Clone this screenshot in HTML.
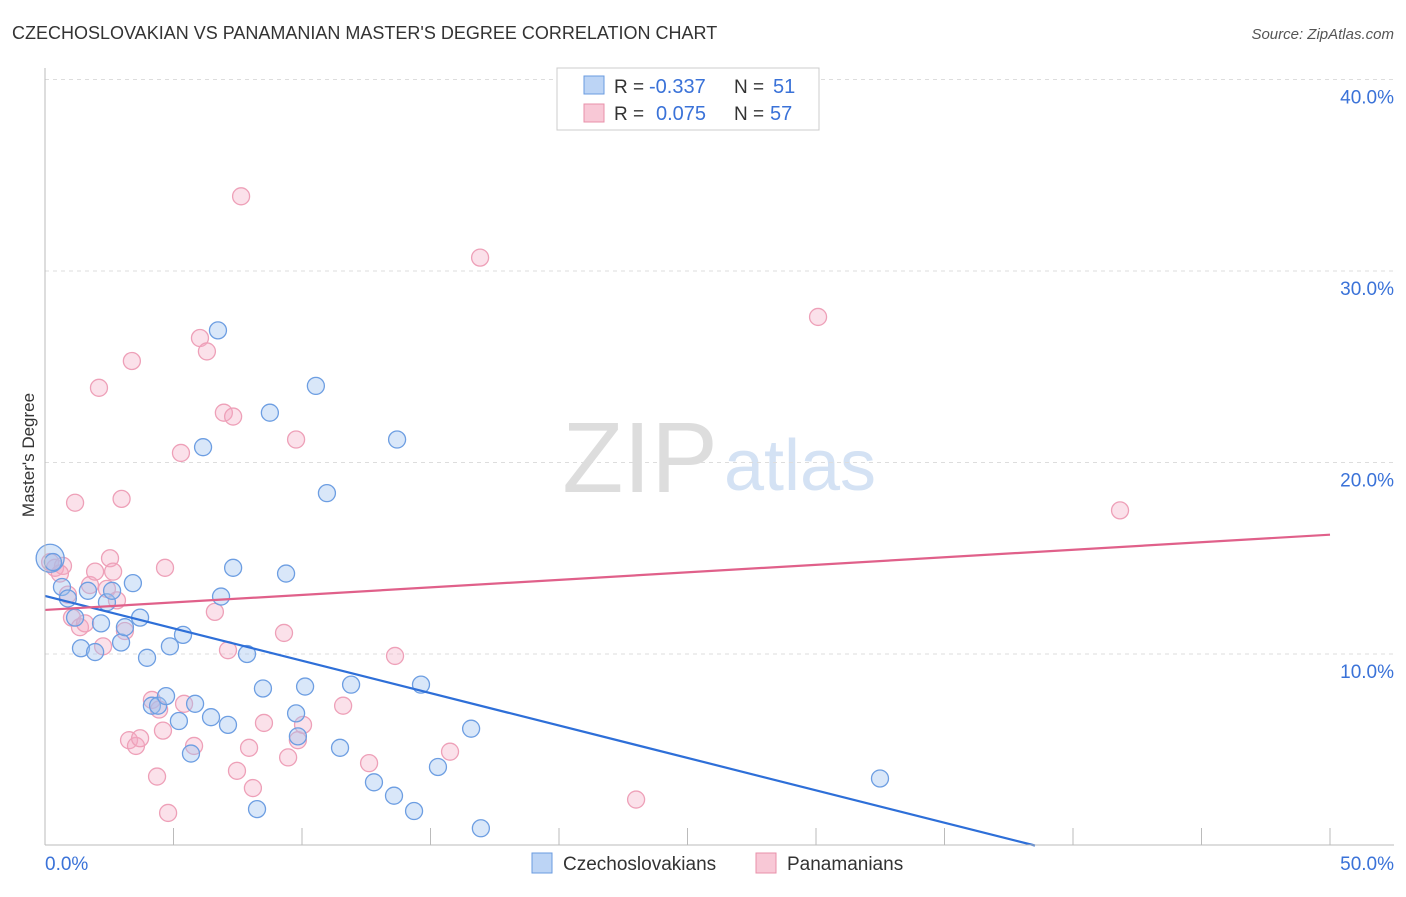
<!DOCTYPE html>
<html><head><meta charset="utf-8"><style>
body{margin:0;background:#fff;font-family:"Liberation Sans",sans-serif}
svg text{font-family:"Liberation Sans",sans-serif}
</style></head><body>
<svg id="c" width="1406" height="892">
<text x="12" y="39" font-size="18" fill="#333">CZECHOSLOVAKIAN VS PANAMANIAN MASTER'S DEGREE CORRELATION CHART</text>
<text x="1394" y="39" font-size="15" fill="#555" font-style="italic" text-anchor="end">Source: ZipAtlas.com</text>
<text x="34" y="455" font-size="17" fill="#333" text-anchor="middle" transform="rotate(-90 34 455)">Master's Degree</text>
<text x="640" y="492" font-size="100" fill="#ddd" font-family="Liberation Serif" text-anchor="middle">ZIP</text>
<text x="800" y="490" font-size="72" fill="#d4e2f4" text-anchor="middle">atlas</text>
<g id="grid"></g><g id="pts"></g><g id="lines"></g>
<line x1="45" y1="68" x2="45" y2="845" stroke="#bbb"/>
<line x1="45" y1="845" x2="1394" y2="845" stroke="#bbb"/>
<text x="45" y="870" font-size="19" fill="#3a72d8">0.0%</text>
<text x="1394" y="870" font-size="19" fill="#3a72d8" text-anchor="end">50.0%</text>
<g>
<rect x="557" y="68" width="262" height="62" fill="#fff" stroke="#ccc"/>
<rect x="584" y="76" width="20" height="18" fill="#bcd4f5" stroke="#6a9be0"/>
<rect x="584" y="104" width="20" height="18" fill="#f8c8d6" stroke="#e890aa"/>
<text x="614" y="93" font-size="19" fill="#333">R =</text>
<text x="649" y="93" font-size="20" fill="#3a72d8">-0.337</text>
<text x="734" y="93" font-size="19" fill="#333">N =</text>
<text x="773" y="93" font-size="20" fill="#3a72d8">51</text>
<text x="614" y="120" font-size="19" fill="#333">R =</text>
<text x="656" y="120" font-size="20" fill="#3a72d8">0.075</text>
<text x="734" y="120" font-size="19" fill="#333">N =</text>
<text x="770" y="120" font-size="20" fill="#3a72d8">57</text>
</g>
<g>
<rect x="532" y="853" width="20" height="20" fill="#bcd4f5" stroke="#6a9be0"/>
<text x="563" y="870" font-size="19" fill="#333">Czechoslovakians</text>
<rect x="756" y="853" width="20" height="20" fill="#f8c8d6" stroke="#e890aa"/>
<text x="787" y="870" font-size="19" fill="#333">Panamanians</text>
</g>
</svg>
<script>
const yTicks=[10,20,30,40];
const xTicks=[0,5,10,15,20,25,30,35,40,45,50];
const blueX=[0.2,0.31,0.66,0.89,1.17,1.4,1.67,1.95,2.18,2.41,2.61,2.96,3.11,3.42,3.7,3.97,4.16,4.4,4.71,4.86,5.21,5.37,5.68,5.84,6.15,6.46,6.73,6.85,7.12,7.32,7.86,8.25,8.48,8.75,9.38,9.77,9.84,10.12,10.54,10.97,11.48,11.91,12.8,13.58,13.7,14.36,14.63,15.29,16.58,16.96,32.49];
const blueY=[15.0,14.8,13.5,12.9,11.9,10.3,13.3,10.1,11.6,12.7,13.3,10.6,11.4,13.7,11.9,9.8,7.3,7.3,7.8,10.4,6.5,11.0,4.8,7.4,20.8,6.7,26.9,13.0,6.3,14.5,10.0,1.9,8.2,22.6,14.2,6.9,5.7,8.3,24.0,18.4,5.1,8.4,3.3,2.6,21.2,1.8,8.4,4.1,6.1,0.9,3.5];
const pinkX=[0.2,0.39,0.7,0.89,1.05,1.17,1.36,1.56,1.75,1.95,2.1,2.26,2.41,2.53,2.65,2.8,2.98,3.11,3.27,3.38,3.54,3.7,4.16,4.36,4.44,4.59,4.79,5.29,5.41,5.8,6.03,6.3,6.61,6.96,7.12,7.32,7.47,7.63,7.94,8.09,8.52,9.3,9.46,9.77,9.84,10.04,11.6,12.61,13.62,15.76,16.93,23.0,30.08,41.83,0.58,4.67];
const pinkY=[14.8,14.5,14.6,13.1,11.9,17.9,11.4,11.6,13.6,14.3,23.9,10.4,13.4,15.0,14.3,12.8,18.1,11.2,5.5,25.3,5.2,5.6,7.6,3.6,7.1,6.0,1.7,20.5,7.4,5.2,26.5,25.8,12.2,22.6,10.2,22.4,3.9,33.9,5.1,3.0,6.4,11.1,4.6,21.2,5.5,6.3,7.3,4.3,9.9,4.9,30.7,2.4,27.6,17.5,14.2,14.5];
const blueTrend=[13.03,0];const blueTrendX=[0,38.52];
const pinkTrend=[12.3,16.23];const pinkTrendX=[0,50];
const X=v=>45+v*25.7, Y=v=>845.5-v*19.15;
const NS='http://www.w3.org/2000/svg';
function mk(t,a,p){const e=document.createElementNS(NS,t);for(const k in a)e.setAttribute(k,a[k]);p.appendChild(e);return e;}
const g=document.getElementById('grid');
yTicks.forEach(t=>{
 const l=mk('line',{x1:45,x2:1394,y1:Y(t),y2:Y(t),stroke:'#ddd','stroke-dasharray':'4,4'},g);
 
 
 const tx=mk('text',{x:1394,y:Y(t)+24,'font-size':19,fill:'#3a72d8','text-anchor':'end'},g);
 tx.textContent=t.toFixed(1)+'%';
 
 
});
xTicks.forEach(t=>{
 const l=mk('line',{x1:X(t),x2:X(t),y1:828,y2:845,stroke:'#bbb'},g);
 
 
});
const p=document.getElementById('pts');
pinkX.forEach((x,i)=>{
 const c=mk('circle',{cx:X(x),cy:Y(pinkY[i]),r:8.5,fill:'rgba(244,170,195,0.35)',stroke:'#eea0b8','stroke-width':1.3},p);
 
 
});
blueX.forEach((x,i)=>{
 const c=mk('circle',{cx:X(x),cy:Y(blueY[i]),r:i==0?14:8.5,fill:'rgba(160,195,240,0.4)',stroke:'#6d9ee2','stroke-width':1.3},p);
 
 
});
const L=document.getElementById('lines');
const b=mk('line',{x1:X(blueTrendX[0]),y1:Y(blueTrend[0]),x2:X(blueTrendX[1]),y2:Y(blueTrend[1]),stroke:'#2e6fd8','stroke-width':2.2},L);


const pk=mk('line',{x1:X(pinkTrendX[0]),y1:Y(pinkTrend[0]),x2:X(pinkTrendX[1]),y2:Y(pinkTrend[1]),stroke:'#e0608a','stroke-width':2.2},L);


</script>
</body></html>
